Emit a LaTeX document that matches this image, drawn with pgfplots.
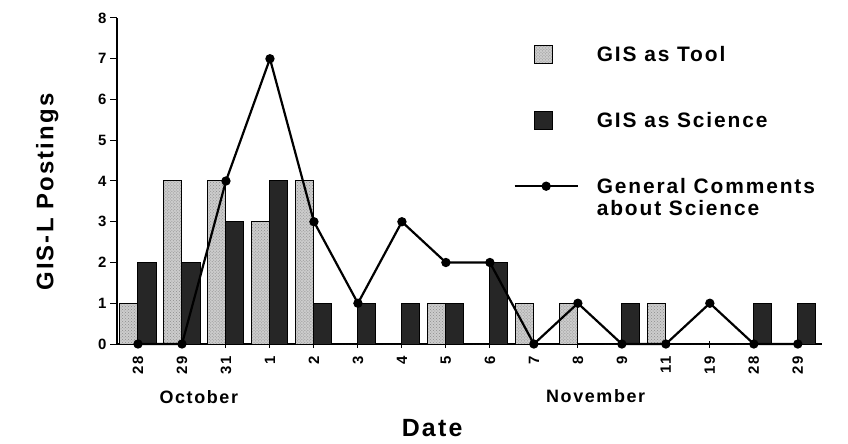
\documentclass[border=0pt]{standalone}
\usepackage{fontspec}
\setmainfont{Liberation Sans}[LetterSpace=9]
\usepackage{pgfplots}
\usepackage{pgfplotstable}
\pgfplotsset{compat=1.18}
\usetikzlibrary{patterns}

% x = position of the date on the axis
\pgfplotstableread{
x tool sci gen
0  1 2 0
1  4 2 0
2  4 3 4
3  3 4 7
4  4 1 3
5  0 1 1
6  0 1 3
7  1 1 2
8  0 2 2
9  1 0 0
10 1 0 1
11 0 1 0
12 1 0 0
13 0 0 1
14 0 1 0
15 0 1 0
}\datatable

% invisible 63bp wide strip so every legend image takes the same room
\newcommand\legendroom{\pgfpathmoveto{\pgfqpoint{0bp}{0bp}}%
    \pgfpathlineto{\pgfqpoint{63bp}{0bp}}\pgfusepath{discard}}

\begin{document}
\begin{tikzpicture}
\begin{axis}[
    scale only axis,
    width=705bp, height=326bp,
    xmin=-0.477, xmax=15.55,
    ymin=0, ymax=8,
    clip=false,
    axis lines=left,
    axis line style={-, line width=1.2bp},
    xtick={0,...,15},
    xticklabels={28,29,31,1,2,3,4,5,6,7,8,9,11,19,28,29},
    ytick={0,...,8},
    tick align=outside,
    major tick length=7bp,
    tick style={line width=1bp, black},
    x tick style={yshift=3.5bp},
    xticklabel shift=2bp,
    /pgf/number format/assume math mode=true,
    x tick label style={rotate=90, anchor=east, font=\fontsize{15}{16}\selectfont\bfseries},
    y tick label style={font=\fontsize{15}{16}\selectfont\bfseries},
    xlabel={Date},
    xlabel style={at={(axis description cs:0.447,-0.258)}, anchor=center, font=\fontsize{25}{28}\selectfont\bfseries},
    ylabel={GIS-L Postings},
    ylabel style={at={(axis description cs:-0.099,0.466)}, anchor=center, font=\fontsize{24}{27}\selectfont\bfseries},
    legend cell align=left,
    legend style={at={(axis description cs:0.558,0.925)}, anchor=north west,
        draw=none, fill=none, row sep=45bp, column sep=16bp,
        font=\fontsize{21}{23}\selectfont\bfseries,
        nodes={align=left}},
]
\addplot[ybar, bar width=0.41, bar shift=-0.205, draw=black, line width=1bp,
    fill=black!20, postaction={pattern=crosshatch dots, pattern color=black!45},
    legend image code/.code={\legendroom
        \draw[draw=black, line width=1bp, fill=black!20] (20bp,-9bp) rectangle (38bp,9bp);}]
    table[x=x, y=tool] {\datatable};
\addlegendentry{GIS as Tool}
\addplot[ybar, bar width=0.41, bar shift=0.205, draw=black, line width=1bp, fill=black!85,
    legend image code/.code={\legendroom
        \draw[draw=black, line width=1bp, fill=black!85] (20bp,-9bp) rectangle (38bp,9bp);}]
    table[x=x, y=sci] {\datatable};
\addlegendentry{GIS as Science}
\addplot[black, line width=2.2bp, mark=*, mark size=3.5bp,
    legend image code/.code={\path[draw=none, fill=none] (0bp,-11.5bp) -- (0bp,11.5bp);
        \draw[black, line width=2.2bp] (0bp,11.5bp) -- (63bp,11.5bp);
        \fill[black] (31.5bp,11.5bp) circle (3.5bp);}]
    table[x=x, y=gen] {\datatable};
\addlegendentry{General Comments\\about Science}
\node[font=\fontsize{18}{20}\selectfont\bfseries] at (axis description cs:0.116,-0.163) {October};
\node[font=\fontsize{18}{20}\selectfont\bfseries] at (axis description cs:0.679,-0.159) {November};
\end{axis}
\path[use as bounding box] (-117bp,-100bp) rectangle (731bp,344bp);
\end{tikzpicture}
\end{document}
